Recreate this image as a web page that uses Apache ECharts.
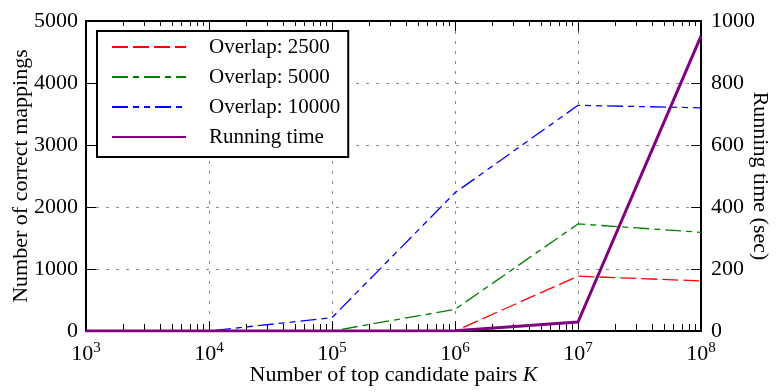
<!DOCTYPE html>
<html>
<head>
<meta charset="utf-8">
<script src="https://cdn.jsdelivr.net/npm/echarts@6/dist/echarts.min.js"></script>
<style>html,body{margin:0;padding:0;background:#fff}#c{width:778px;height:392px}</style>
</head>
<body>
<div id="c"></div>
<script>
const kValues = [1e3, 1e4, 1e5, 1e6, 1e7, 1e8];
const overlap2500 = [0, 0, 0, 0, 884, 808];
const overlap5000 = [0, 0, 0, 349, 1727, 1592];
const overlap10000 = [0, 0, 215, 2230, 3640, 3600];
const runningTime = [0, 0, 0, 1, 29, 951];
const seriesNames = ['Overlap: 2500', 'Overlap: 5000', 'Overlap: 10000', 'Running time'];
const xAxisName = 'Number of top candidate pairs ';
const leftAxisName = 'Number of correct mappings';
const rightAxisName = 'Running time (sec)';

const FONT = '"Liberation Serif", "DejaVu Serif", serif';
const FS = 22;
const minorTicks = [];
for (let n = 3; n < 8; n++) for (let k = 2; k <= 9; k++) minorTicks.push(k * Math.pow(10, n));

function pairs(vals) { return kValues.map((k, i) => [k, vals[i]]); }

const gridLine = { show: true, lineStyle: { color: '#888', width: 1, type: [3, 7] } };
const axisLineStyle = { show: true, onZero: false, lineStyle: { color: '#000', width: 2 } };
const majorTick = { show: true, inside: true, length: 10, lineStyle: { color: '#000', width: 1 } };
const minorTickBottom = { show: true, inside: true, length: 7, customValues: minorTicks, lineStyle: { color: '#000', width: 1 } };
const minorTickTop = { show: true, inside: true, length: 5, customValues: minorTicks, lineStyle: { color: '#000', width: 1 } };

const chart = echarts.init(document.getElementById('c'));
chart.setOption({
  animation: false,
  backgroundColor: '#fff',
  grid: { left: 86, right: 77, top: 21, bottom: 61, containLabel: false, outerBoundsMode: 'none' },
  xAxis: [
    {
      type: 'log', logBase: 10, min: 1e3, max: 1e8, position: 'bottom',
      axisLine: axisLineStyle,
      axisTick: majorTick,
      splitLine: gridLine,
      minorTick: { show: false }, minorSplitLine: { show: false },
      axisLabel: {
        margin: 10, color: '#000', fontFamily: FONT,
        formatter: function (v) { return '{b|10}{s|' + Math.round(Math.log10(v)) + '}'; },
        rich: {
          b: { fontSize: FS, fontFamily: FONT, color: '#000' },
          s: { fontSize: 15, fontFamily: FONT, color: '#000', padding: [0, 0, 11, 0] }
        }
      },
      name: xAxisName + '{i|K}', nameLocation: 'middle', nameGap: 33, nameMoveOverlap: false,
      nameTextStyle: { fontSize: FS, fontFamily: FONT, color: '#000',
        rich: { i: { fontSize: FS, fontFamily: FONT, fontStyle: 'italic', color: '#000' } } }
    },
    {
      type: 'log', logBase: 10, min: 1e3, max: 1e8, position: 'bottom',
      axisLine: axisLineStyle, splitLine: { show: false },
      axisLabel: { show: false, customValues: minorTicks },
      axisTick: minorTickBottom
    },
    {
      type: 'log', logBase: 10, min: 1e3, max: 1e8, position: 'top',
      axisLine: axisLineStyle, splitLine: { show: false }, axisLabel: { show: false },
      axisTick: majorTick
    },
    {
      type: 'log', logBase: 10, min: 1e3, max: 1e8, position: 'top',
      axisLine: axisLineStyle, splitLine: { show: false },
      axisLabel: { show: false, customValues: minorTicks },
      axisTick: minorTickTop
    }
  ],
  yAxis: [
    {
      type: 'value', min: 0, max: 5000, interval: 1000, position: 'left',
      axisLine: axisLineStyle,
      axisTick: majorTick,
      splitLine: gridLine,
      axisLabel: { margin: 8, color: '#000', fontSize: FS, fontFamily: FONT, formatter: function (v) { return String(v); } },
      name: leftAxisName, nameLocation: 'middle', nameGap: 54, nameRotate: 90, nameMoveOverlap: false,
      nameTextStyle: { fontSize: FS, fontFamily: FONT, color: '#000' }
    },
    {
      type: 'value', min: 0, max: 1000, interval: 200, position: 'right',
      axisLine: axisLineStyle,
      axisTick: majorTick,
      splitLine: { show: false },
      axisLabel: { margin: 10, color: '#000', fontSize: FS, fontFamily: FONT, formatter: function (v) { return String(v); } },
      name: rightAxisName, nameLocation: 'middle', nameGap: 48, nameRotate: -90, nameMoveOverlap: false,
      nameTextStyle: { fontSize: FS, fontFamily: FONT, color: '#000' }
    }
  ],
  legend: {
    orient: 'vertical', left: 97, top: 31,
    itemWidth: 74, itemHeight: 14, itemGap: 8,
    padding: [5, 8, 9, 14],
    borderColor: '#000', borderWidth: 2, backgroundColor: '#fff', borderRadius: 0,
    itemStyle: { opacity: 0 },
    textStyle: { fontSize: 21, lineHeight: 22, fontFamily: FONT, color: '#000', padding: [0, 0, 0, 18] },
    data: seriesNames
  },
  series: [
    { name: seriesNames[0], type: 'line', xAxisIndex: 0, yAxisIndex: 0, data: pairs(overlap2500),
      symbol: 'none', lineStyle: { color: '#ff0000', width: 1.3, type: [16, 5] }, itemStyle: { color: '#ff0000' } },
    { name: seriesNames[1], type: 'line', xAxisIndex: 0, yAxisIndex: 0, data: pairs(overlap5000),
      symbol: 'none', lineStyle: { color: '#008000', width: 1.3, type: [16, 5, 6, 5] }, itemStyle: { color: '#008000' } },
    { name: seriesNames[2], type: 'line', xAxisIndex: 0, yAxisIndex: 0, data: pairs(overlap10000),
      symbol: 'none', lineStyle: { color: '#0000ff', width: 1.3, type: [16, 5, 6, 5, 6, 5] }, itemStyle: { color: '#0000ff' } },
    { name: seriesNames[3], type: 'line', xAxisIndex: 0, yAxisIndex: 1, data: pairs(runningTime),
      symbol: 'none', lineStyle: { color: '#800080', width: 3 }, itemStyle: { color: '#800080' } }
  ]
});
</script>
</body>
</html>
